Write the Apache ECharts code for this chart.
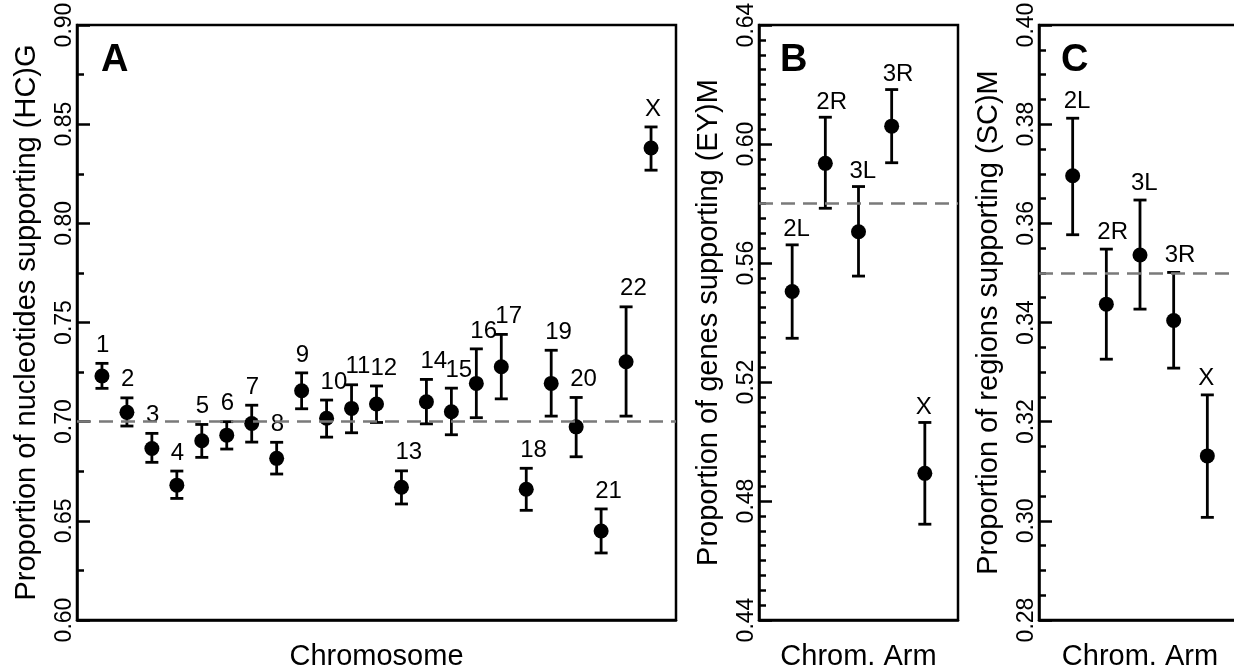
<!DOCTYPE html>
<html>
<head>
<meta charset="utf-8">
<script src="https://cdn.jsdelivr.net/npm/echarts@6/dist/echarts.min.js"></script>
<style>html,body{margin:0;padding:0;background:#fff;}#c{width:1234px;height:670px;}</style>
</head>
<body>
<div id="c"></div>
<script>
// Panel A: chromosomes
const chrNames = ['1','2','3','4','5','6','7','8','9','10','11','12','13','14','15','16','17','18','19','20','21','22','X'];
const chrMean = [0.723,0.7047,0.6865,0.668,0.6904,0.6932,0.6991,0.6815,0.7156,0.7017,0.7067,0.7089,0.6669,0.710,0.705,0.7193,0.7277,0.6659,0.7193,0.6974,0.6449,0.7302,0.838];
const chrLow  = [0.7168,0.6978,0.6795,0.6613,0.682,0.6862,0.6897,0.6736,0.7065,0.6922,0.6944,0.6996,0.6585,0.6989,0.6934,0.702,0.7115,0.6553,0.7028,0.6823,0.6338,0.7028,0.8268];
const chrHigh = [0.7294,0.7120,0.6941,0.6751,0.6986,0.700,0.7083,0.6896,0.7246,0.7109,0.7186,0.718,0.6752,0.7213,0.7169,0.7367,0.744,0.6765,0.736,0.7122,0.656,0.7579,0.8486];
const chrRef = 0.6958;

// Panels B and C: chromosome arms
const armNames = ['2L','2R','3L','3R','X'];
const genesMean = [0.5504,0.5935,0.5705,0.6060,0.4893];
const genesLow  = [0.5347,0.5784,0.5556,0.5937,0.4722];
const genesHigh = [0.5661,0.609,0.5857,0.6183,0.5064];
const genesRef = 0.5829;

const regionsMean = [0.3696,0.3437,0.3536,0.3404,0.3131];
const regionsLow  = [0.3577,0.3326,0.3427,0.3308,0.3007];
const regionsHigh = [0.3812,0.3548,0.3647,0.3501,0.3254];
const regionsRef = 0.3509;

const FONT = 'Liberation Sans, Arial, sans-serif';

function buildData(names, mean, low, high) {
  return names.map((n, i) => [i + 1, mean[i], low[i], high[i], n]);
}

function panel(idx, names, mean, low, high, ref, labelDx, labelDy) {
  const data = buildData(names, mean, low, high);
  return [
    {
      type: 'custom',
      xAxisIndex: idx, yAxisIndex: idx,
      data: data,
      silent: true,
      renderItem: function (params, api) {
        const x = api.value(0);
        const top = api.coord([x, api.value(3)]);
        const bot = api.coord([x, api.value(2)]);
        const cap = 6.5;
        const ls = { stroke: '#000', lineWidth: 2.8 };
        return {
          type: 'group',
          children: [
            { type: 'line', shape: { x1: top[0], y1: top[1], x2: bot[0], y2: bot[1] }, style: ls },
            { type: 'line', shape: { x1: top[0] - cap, y1: top[1], x2: top[0] + cap, y2: top[1] }, style: ls },
            { type: 'line', shape: { x1: bot[0] - cap, y1: bot[1], x2: bot[0] + cap, y2: bot[1] }, style: ls },
            { type: 'text', style: { text: names[params.dataIndex], x: top[0] + labelDx, y: top[1] - labelDy,
                textAlign: 'left', textVerticalAlign: 'middle', font: '24px ' + FONT, fill: '#000' } }
          ]
        };
      },
      encode: { x: 0, y: [1, 2, 3] },
      z: 2
    },
    {
      type: 'scatter',
      xAxisIndex: idx, yAxisIndex: idx,
      data: data.map(d => [d[0], d[1]]),
      symbol: 'circle',
      symbolSize: 15,
      itemStyle: { color: '#000', opacity: 1 },
      silent: true,
      z: 3,
      markLine: {
        silent: true,
        symbol: ['none', 'none'],
        label: { show: false },
        lineStyle: { color: '#7a7a7a', width: 2.5, type: [14, 8], opacity: 1 },
        data: [{ yAxis: ref }]
      }
    }
  ];
}

function yAxis(idx, min, max, interval, minorSplit, name) {
  return {
    type: 'value', gridIndex: idx, min: min, max: max, interval: interval,
    name: name, nameLocation: 'middle', nameGap: 36,
    nameTextStyle: { fontSize: 29, fontFamily: FONT, color: '#000' },
    axisLine: { show: true, lineStyle: { color: '#000', width: 2.5 } },
    axisTick: { show: true, inside: true, length: 13, lineStyle: { color: '#000', width: 2.5 } },
    minorTick: { show: true, splitNumber: minorSplit, length: 7, lineStyle: { color: '#000', width: 2.5 } },
    splitLine: { show: false },
    minorSplitLine: { show: false },
    axisLabel: { show: true, rotate: 90, margin: 1, fontSize: 23, fontFamily: FONT, color: '#000',
      showMinLabel: true, showMaxLabel: true, formatter: v => v.toFixed(2) }
  };
}

function xAxis(idx, max, name) {
  return {
    type: 'value', gridIndex: idx, min: 0, max: max,
    name: name, nameLocation: 'middle', nameGap: 22,
    nameTextStyle: { fontSize: 29, fontFamily: FONT, color: '#000' },
    axisLine: { show: true, lineStyle: { color: '#000', width: 2.5 } },
    axisTick: { show: false },
    axisLabel: { show: false },
    splitLine: { show: false }
  };
}

const chart = echarts.init(document.getElementById('c'));
const gridBase = { show: true, borderColor: '#000', borderWidth: 2.5, backgroundColor: 'transparent',
  top: 25, height: 595, containLabel: false, outerBoundsMode: 'none' };
chart.setOption({
  animation: false,
  backgroundColor: '#fff',
  grid: [
    Object.assign({ left: 77, width: 599 }, gridBase),
    Object.assign({ left: 759, width: 199 }, gridBase),
    Object.assign({ left: 1039, width: 202 }, gridBase)
  ],
  xAxis: [
    xAxis(0, 24, 'Chromosome'),
    xAxis(1, 6, 'Chrom. Arm'),
    xAxis(2, 6, 'Chrom. Arm')
  ],
  yAxis: [
    yAxis(0, 0.60, 0.90, 0.05, 2, 'Proportion of nucleotides supporting (HC)G'),
    yAxis(1, 0.44, 0.64, 0.04, 8, 'Proportion of genes supporting (EY)M'),
    yAxis(2, 0.28, 0.40, 0.02, 4, 'Proportion of regions supporting (SC)M')
  ],
  graphic: [
    { type: 'text', style: { text: 'A', x: 101, y: 61, textVerticalAlign: 'middle', font: 'bold 38px ' + FONT, fill: '#000' } },
    { type: 'text', style: { text: 'B', x: 780, y: 61, textVerticalAlign: 'middle', font: 'bold 38px ' + FONT, fill: '#000' } },
    { type: 'text', style: { text: 'C', x: 1061, y: 61, textVerticalAlign: 'middle', font: 'bold 38px ' + FONT, fill: '#000' } }
  ],
  series: [].concat(
    panel(0, chrNames, chrMean, chrLow, chrHigh, chrRef, -6, 18),
    panel(1, armNames, genesMean, genesLow, genesHigh, genesRef, -9, 15),
    panel(2, armNames, regionsMean, regionsLow, regionsHigh, regionsRef, -9, 17)
  )
});
</script>
</body>
</html>
